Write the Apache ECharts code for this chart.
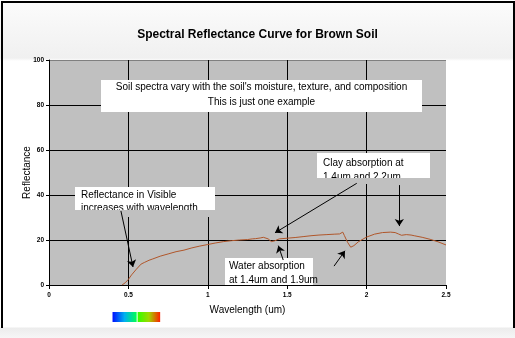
<!DOCTYPE html>
<html>
<head>
<meta charset="utf-8">
<script src="https://cdn.jsdelivr.net/npm/echarts@6/dist/echarts.min.js"></script>
<style>
  html, body { margin: 0; padding: 0; background: #fff; }
  #wrap { position: relative; width: 515px; height: 338px; overflow: hidden;
    background: linear-gradient(to bottom, #ffffff 0px, #fbfbfb 4px, #f0f0f0 58px, #ffffff 61px, #ffffff 327px, #ececec 328px, #f6f6f6 338px); }
  #frame { position: absolute; left: 1px; top: 1px; width: 510px; height: 325px;
    border-left: 2px solid #000; border-top: 2px solid #000; border-right: 2px solid #000; }
  #chart { position: absolute; left: 0; top: 0; width: 515px; height: 338px; }
</style>
</head>
<body>
<div id="wrap"><div id="frame"></div><div id="chart"></div></div>
<script>
// Spectral reflectance of a brown soil sample (wavelength in um, reflectance in %)
const wavelength = [0.46, 0.48, 0.50, 0.52, 0.55, 0.58, 0.60, 0.63, 0.65, 0.70, 0.75, 0.80, 0.85, 0.90,
  0.95, 1.00, 1.05, 1.10, 1.15, 1.20, 1.25, 1.28, 1.30, 1.33, 1.35, 1.36, 1.38, 1.40, 1.42, 1.45, 1.50,
  1.55, 1.60, 1.65, 1.70, 1.75, 1.80, 1.83, 1.85, 1.86, 1.88, 1.90, 1.92, 1.95, 2.00, 2.05, 2.10, 2.15,
  2.18, 2.20, 2.22, 2.25, 2.28, 2.30, 2.35, 2.40, 2.45, 2.50];
const reflectance = [0, 1.0, 2.5, 4.5, 7.0, 9.3, 10.0, 11.0, 11.5, 12.8, 13.8, 14.8, 15.5, 16.5,
  17.3, 18.0, 18.7, 19.3, 19.7, 20.0, 20.2, 20.5, 20.6, 20.9, 21.2, 21.8, 20.5, 19.3, 19.6, 20.5, 20.8,
  21.1, 21.5, 21.9, 22.2, 22.4, 22.6, 22.7, 23.5, 22.0, 19.0, 16.8, 17.5, 19.3, 21.3, 22.6, 23.3, 23.5,
  23.3, 22.7, 22.1, 22.4, 22.2, 21.9, 21.2, 20.3, 19.2, 17.8];

// Axis ranges and ticks
const xTicks = [0, 0.5, 1, 1.5, 2, 2.5];
const yTicks = [0, 20, 40, 60, 80, 100];

// Arrow annotations: [from, to] in (wavelength, reflectance)
const arrows = [
  [[0.453, 32.9], [0.529, 8.0]],
  [[1.938, 45.2], [1.423, 23.2]],
  [[2.206, 44.4], [2.206, 26.2]],
  [[1.475, 11.1], [1.444, 17.5]],
  [[1.795, 8.4], [1.864, 15.2]]
];

// Visible band shown under the axis (um)
const visibleBand = [0.4, 0.555, 0.7];

const FONT = '"Liberation Sans", Arial, sans-serif';
const chart = echarts.init(document.getElementById('chart'), null, { renderer: 'canvas' });

function pairs(xs, ys) { return xs.map((x, i) => [x, ys[i]]); }

const option = {
  animation: false,
  backgroundColor: 'transparent',
  title: {
    text: 'Spectral Reflectance Curve for Brown Soil',
    left: 'center', top: 24,
    textStyle: { fontFamily: FONT, fontSize: 12, fontWeight: 'bold', color: '#000' }
  },
  grid: { left: 49, right: 69, top: 60, bottom: 53, show: true, backgroundColor: '#c0c0c0', borderWidth: 0 },
  xAxis: {
    type: 'value', min: xTicks[0], max: xTicks[xTicks.length - 1], interval: 0.5,
    name: 'Wavelength (um)', nameLocation: 'middle', nameGap: 20, nameMoveOverlap: false,
    nameTextStyle: { fontFamily: FONT, fontSize: 10, color: '#000' },
    axisLine: { show: true, lineStyle: { color: '#000', width: 1 } },
    axisTick: { show: true, length: 4, lineStyle: { color: '#000' } },
    axisLabel: { fontFamily: FONT, fontSize: 6.5, fontWeight: 'bold', color: '#000', margin: 7 },
    splitLine: { show: true, showMaxLine: false, lineStyle: { color: '#000', width: 1 } }
  },
  yAxis: {
    type: 'value', min: yTicks[0], max: yTicks[yTicks.length - 1], interval: 20,
    name: 'Reflectance', nameLocation: 'middle', nameGap: 17, nameMoveOverlap: false,
    nameTextStyle: { fontFamily: FONT, fontSize: 10, color: '#000' },
    axisLine: { show: true, lineStyle: { color: '#000', width: 1 } },
    axisTick: { show: true, length: 3, lineStyle: { color: '#000' } },
    axisLabel: { fontFamily: FONT, fontSize: 6.5, fontWeight: 'bold', color: '#000', margin: 5 },
    splitLine: { show: true, lineStyle: { color: ['#000', '#000', '#000', '#000', '#000', '#808080'], width: 1 } }
  },
  series: [{
    type: 'line',
    data: pairs(wavelength, reflectance),
    showSymbol: false,
    lineStyle: { color: '#b0562a', width: 1 },
    itemStyle: { color: '#b0562a' },
    silent: true,
    markLine: {
      silent: true,
      symbol: ['none', 'arrow'],
      symbolSize: 7,
      label: { show: false },
      itemStyle: { color: '#000' },
      lineStyle: { color: '#000', width: 1, type: 'solid' },
      emphasis: { disabled: true },
      data: arrows.map(a => [{ coord: a[0] }, { coord: a[1] }])
    }
  }],
  graphic: []
};
chart.setOption(option);

// Text boxes in the plot area (white boxes with black text)
function box(x, y, w, h) {
  return { type: 'rect', z: 1, silent: true, shape: { x: x, y: y, width: w, height: h }, style: { fill: '#fff' } };
}
function txt(x, y, s, align) {
  return { type: 'text', z: 1, silent: true, x: x, y: y,
    style: { text: s, fill: '#000', font: '10px ' + FONT, textAlign: align || 'left', textVerticalAlign: 'middle' } };
}
function cover(x, y, w, h) {
  return { type: 'rect', z: 1, silent: true, shape: { x: x, y: y, width: w, height: h }, style: { fill: '#c0c0c0' } };
}

const px = v => chart.convertToPixel({ xAxisIndex: 0 }, v);
const b0 = px(visibleBand[0]), b1 = px(visibleBand[1]), b2 = px(visibleBand[2]);

const graphics = [
  box(101, 80, 321, 32),
  txt(261.5, 87.5, "Soil spectra vary with the soil's moisture, texture, and composition", 'center'),
  txt(261.5, 102.5, 'This is just one example', 'center'),

  box(75, 187, 140, 23),
  txt(81, 195, 'Reflectance in Visible'),
  txt(81, 208.5, 'increases with wavelength'),
  cover(75, 210, 140, 7),

  box(317, 153, 113, 25),
  txt(323, 163, 'Clay absorption at'),
  txt(323, 177, '1.4um and 2.2um'),
  cover(317, 178, 113, 6),

  box(225, 258, 88, 27),
  txt(229, 266, 'Water absorption'),
  txt(229, 280.5, 'at 1.4um and 1.9um'),

  { type: 'rect', silent: true, shape: { x: b0, y: 312, width: b1 - b0 - 0.5, height: 10 },
    style: { fill: new echarts.graphic.LinearGradient(0, 0, 1, 0, [
      { offset: 0, color: '#0010ff' }, { offset: 0.5, color: '#00b0f0' }, { offset: 1, color: '#00ff50' }]) } },
  { type: 'rect', silent: true, shape: { x: b1 + 0.5, y: 312, width: b2 - b1 - 0.5, height: 10 },
    style: { fill: new echarts.graphic.LinearGradient(0, 0, 1, 0, [
      { offset: 0, color: '#30ff00' }, { offset: 0.5, color: '#a0d800' }, { offset: 1, color: '#ff2000' }]) } }
];
chart.setOption({ graphic: graphics });
</script>
</body>
</html>
